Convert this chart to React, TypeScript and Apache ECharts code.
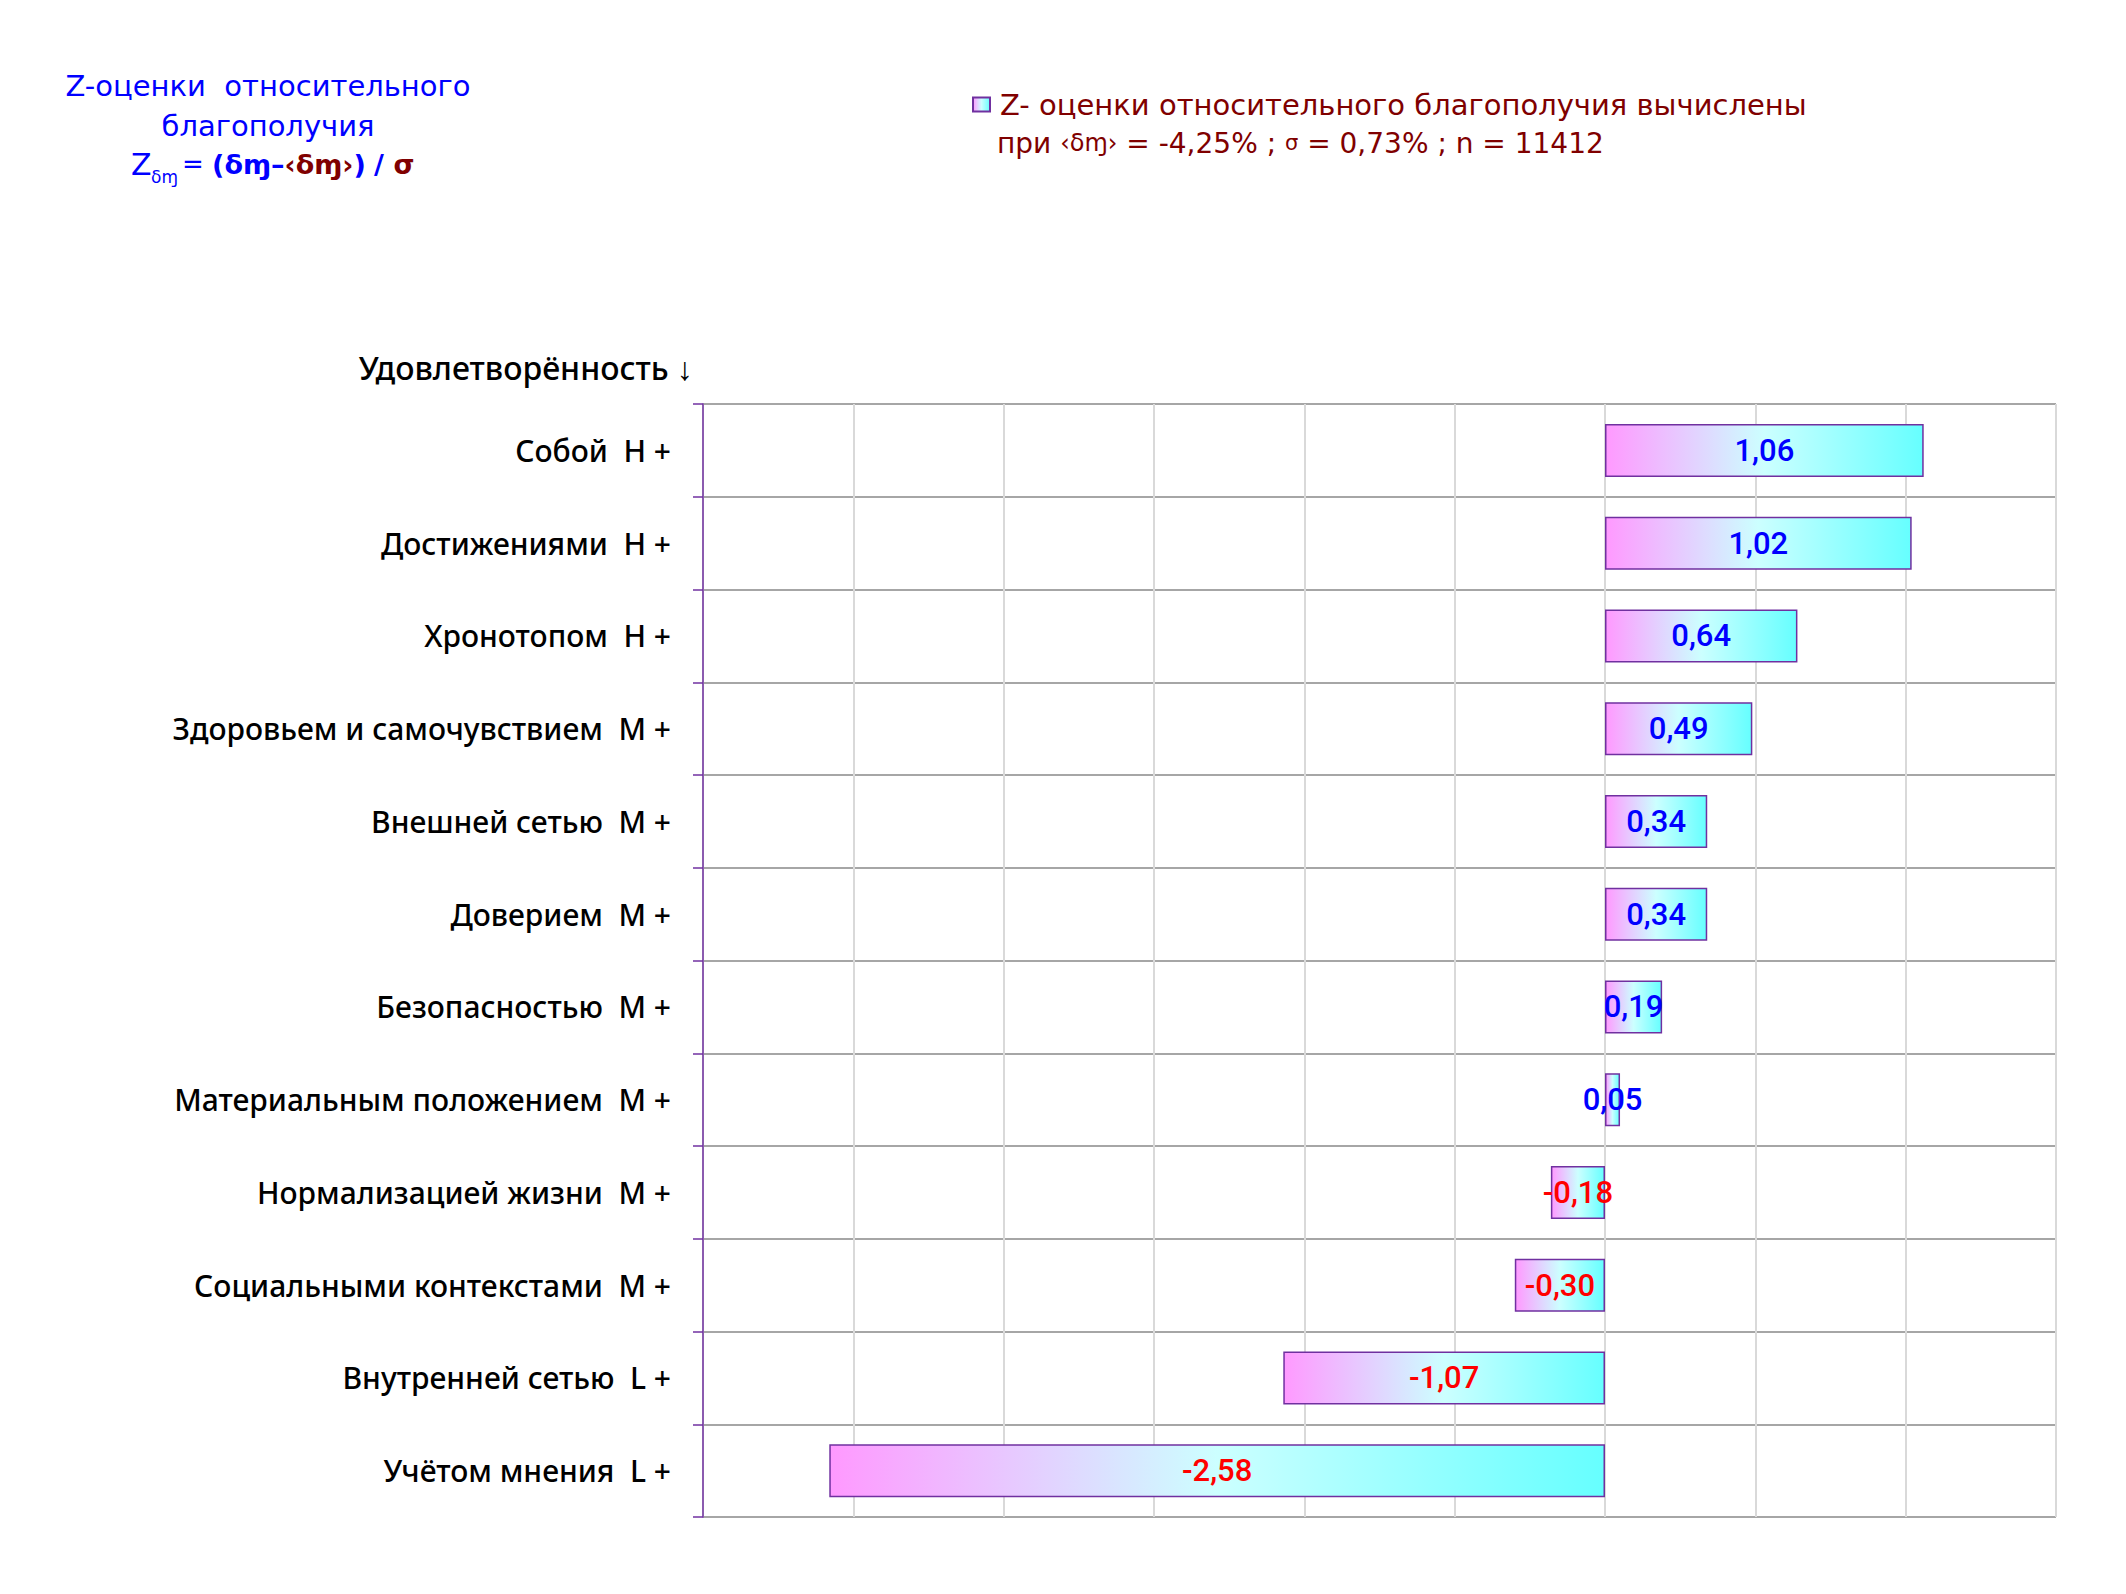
import React, { useEffect, useRef } from "react";
import * as echarts from "echarts";

const categories = [
  "Собой  Н +",
  "Достижениями  Н +",
  "Хронотопом  Н +",
  "Здоровьем и самочувствием  М +",
  "Внешней сетью  М +",
  "Доверием  М +",
  "Безопасностью  М +",
  "Материальным положением  М +",
  "Нормализацией жизни  М +",
  "Социальными контекстами  М +",
  "Внутренней сетью  L +",
  "Учётом мнения  L +",
];
const values = [1.06, 1.02, 0.64, 0.49, 0.34, 0.34, 0.19, 0.05, -0.18, -0.3, -1.07, -2.58];
const xMin = -3;
const xMax = 1.5;
const xInterval = 0.5;

const seriesName = "Z- оценки относительного благополучия вычислены";
const titleLine1 = "Z-оценки  относительного";
const titleLine2 = "благополучия";
const axisName = "Удовлетворённость ↓";

const TITLE_FONT = "'DejaVu Sans', sans-serif";
const CAT_FONT = "'Noto Sans', sans-serif";
const LABEL_FONT = "Roboto, sans-serif";
const BLUE = "#0000ff";
const DARKRED = "#800000";
const PURPLE = "#7030a0";

export default function App() {
  const ref = useRef<HTMLDivElement>(null);
  useEffect(() => {
    if (!ref.current) return;
    const chart = echarts.init(ref.current, null, { renderer: "svg" });
    const grad = new echarts.graphic.LinearGradient(0, 0, 1, 0, [
      { offset: 0, color: "#ff99ff" },
      { offset: 0.5, color: "#ccffff" },
      { offset: 1, color: "#66ffff" },
    ]);
    const fmt = (v: number) => v.toFixed(2).replace(".", ",");
    const t = (text: string, x: number, y: number, fill: string, size: number, extra: any = {}) => ({
      type: "text",
      x,
      y,
      style: {
        text,
        fill,
        fontSize: size,
        fontFamily: TITLE_FONT,
        fontWeight: "normal",
        textAlign: extra.align || "left",
        align: extra.align || "left",
        textVerticalAlign: "middle",
        verticalAlign: "middle",
        ...(extra.style || {}),
      },
    });
    chart.setOption({
      animation: false,
      backgroundColor: "#ffffff",
      legend: {
        left: 967,
        top: 85,
        icon: "rect",
        itemWidth: 17,
        itemHeight: 14,
        data: [seriesName],
        textStyle: {
          color: DARKRED,
          fontSize: 29,
          fontFamily: TITLE_FONT,
          padding: [0, 0, 0, 5],
        },
      },
      grid: { left: 703, right: 70, top: 404, bottom: 77, containLabel: false },
      xAxis: {
        type: "value",
        min: xMin,
        max: xMax,
        interval: xInterval,
        axisLabel: { show: false },
        axisTick: { show: false },
        axisLine: { show: false },
        splitLine: { show: true, lineStyle: { color: "#d9d9d9", width: 2 } },
      },
      yAxis: {
        type: "category",
        inverse: true,
        data: categories,
        axisLine: { show: true, onZero: false, lineStyle: { color: PURPLE, width: 1.5 } },
        axisTick: { show: true, length: 10, lineStyle: { color: PURPLE, width: 1.5 } },
        splitLine: { show: true, lineStyle: { color: "#a6a6a6", width: 2 } },
        axisLabel: {
          color: "#000000",
          fontSize: 30,
          fontWeight: 500,
          fontFamily: CAT_FONT,
          margin: 32,
        },
      },
      series: [
        {
          name: seriesName,
          type: "bar",
          barWidth: 53,
          itemStyle: { color: grad, borderColor: PURPLE, borderWidth: 1.5 },
          data: values.map((v) => ({
            value: v,
            label: { color: v >= 0 ? BLUE : "#ff0000" },
          })),
          label: {
            show: true,
            position: "inside",
            fontSize: 31,
            fontFamily: LABEL_FONT,
            fontWeight: 500,
            formatter: (p: any) => fmt(p.value),
          },
        },
      ],
      graphic: [
        t(titleLine1, 268, 86, BLUE, 29, { align: "center" }),
        t(titleLine2, 268, 126, BLUE, 29, { align: "center" }),
        t("Z", 131, 164, BLUE, 30),
        t("δɱ", 151, 177, BLUE, 17),
        {
          type: "text",
          x: 182,
          y: 164,
          style: {
            text: "{n|= }{b|(δɱ–}{r|‹δɱ›}{b|)}{n| }{b|/ }{r|σ}",
            textVerticalAlign: "middle",
            verticalAlign: "middle",
            rich: {
              n: { fill: BLUE, color: BLUE, fontSize: 26, fontFamily: TITLE_FONT },
              b: { fill: BLUE, color: BLUE, fontSize: 27, fontFamily: TITLE_FONT, fontWeight: "bold" },
              r: { fill: DARKRED, color: DARKRED, fontSize: 27, fontFamily: TITLE_FONT, fontWeight: "bold" },
            },
          },
        },
        {
          type: "text",
          x: 997,
          y: 143,
          style: {
            text: "{a|при }{s|‹δɱ›}{a| = -4,25% ; }{g|σ}{a| = 0,73% ; n = 11412}",
            textVerticalAlign: "middle",
            verticalAlign: "middle",
            rich: {
              a: { fill: DARKRED, color: DARKRED, fontSize: 28, fontFamily: TITLE_FONT },
              s: { fill: DARKRED, color: DARKRED, fontSize: 24, fontFamily: TITLE_FONT },
              g: { fill: DARKRED, color: DARKRED, fontSize: 21, fontFamily: TITLE_FONT },
            },
          },
        },
        {
          type: "text",
          x: 693,
          y: 367,
          style: {
            text: axisName,
            fill: "#000000",
            fontSize: 32,
            fontWeight: 500,
            fontFamily: CAT_FONT,
            textAlign: "right",
            align: "right",
            textVerticalAlign: "middle",
            verticalAlign: "middle",
          },
        },
      ],
    });
    return () => chart.dispose();
  }, []);
  return (
    <div
      ref={ref}
      style={{ position: "absolute", left: 0, top: 0, width: 2126, height: 1594 }}
    />
  );
}
